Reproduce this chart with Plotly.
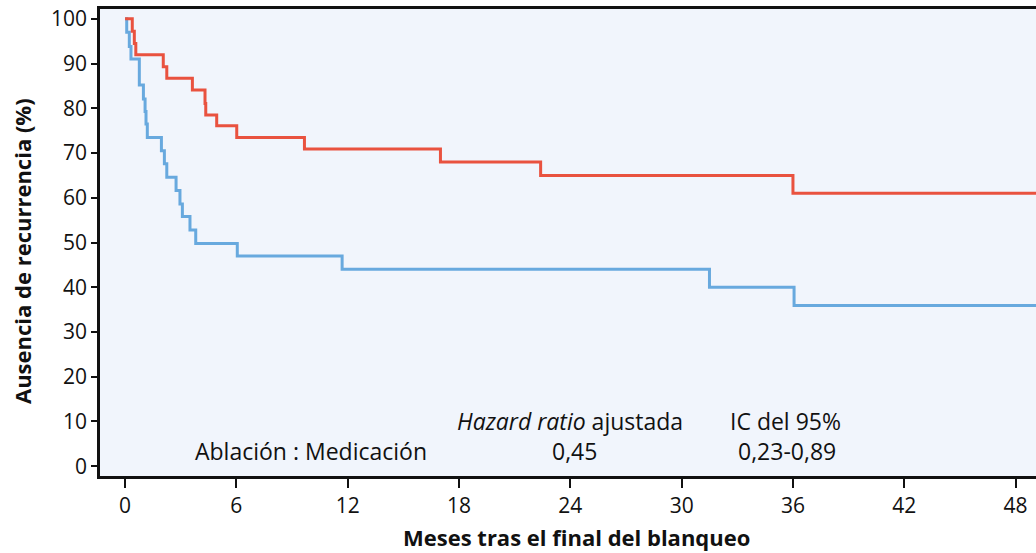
import plotly.graph_objects as go

# Kaplan-Meier step data (months, % free of recurrence)
ablacion_t = [0, 0.39, 0.50, 0.58, 2.06, 2.25, 3.63, 4.31, 4.35, 4.94, 6.02, 9.67, 17.0, 22.4, 36.0, 50.0]
ablacion_s = [100, 97.2, 94.5, 92.0, 89.3, 86.7, 84.1, 81.1, 78.5, 76.1, 73.5, 70.9, 68.0, 65.0, 61.0, 61.0]

medicacion_t = [0, 0.09, 0.23, 0.32, 0.77, 0.99, 1.08, 1.13, 1.20, 1.96, 2.12, 2.25, 2.75, 2.96, 3.09, 3.50, 3.81, 6.05, 11.7, 31.5, 36.06, 50.0]
medicacion_s = [100, 97.0, 93.8, 91.0, 85.2, 82.1, 79.3, 76.5, 73.5, 70.5, 67.6, 64.6, 61.6, 58.6, 55.8, 52.8, 49.8, 47.0, 44.0, 40.0, 35.9, 35.9]

x_ticks = [0, 6, 12, 18, 24, 30, 36, 42, 48]
y_ticks = [0, 10, 20, 30, 40, 50, 60, 70, 80, 90, 100]

FONT = "Open Sans"
RED = "#E9523F"
BLUE = "#68A9DE"

fig = go.Figure()
fig.add_trace(go.Scatter(x=medicacion_t, y=medicacion_s, mode="lines", line_shape="hv",
                         line=dict(color=BLUE, width=3), name="Medicación", showlegend=False))
fig.add_trace(go.Scatter(x=ablacion_t, y=ablacion_s, mode="lines", line_shape="hv",
                         line=dict(color=RED, width=3), name="Ablación", showlegend=False))

ann_font = dict(family=FONT, size=23, color="#111111")
fig.add_annotation(x=24.0, y=10.1, xref="x", yref="y", text="<i>Hazard ratio</i> ajustada",
                   showarrow=False, font=ann_font)
fig.add_annotation(x=35.6, y=10.1, xref="x", yref="y", text="IC del 95%",
                   showarrow=False, font=ann_font)
fig.add_annotation(x=16.4, y=3.4, xref="x", yref="y", text="Ablación : Medicación",
                   showarrow=False, font=ann_font, xanchor="right")
fig.add_annotation(x=24.2, y=3.4, xref="x", yref="y", text="0,45",
                   showarrow=False, font=ann_font)
fig.add_annotation(x=35.7, y=3.4, xref="x", yref="y", text="0,23-0,89",
                   showarrow=False, font=ann_font)

# Axis titles
title_font = dict(family=FONT, size=22, color="#111111")
fig.add_annotation(x=0.5096, y=-0.1306, xref="paper", yref="paper",
                   xanchor="center", yanchor="middle",
                   text="<b>Meses tras el final del blanqueo</b>", showarrow=False, font=title_font)
fig.add_annotation(x=-0.0833, y=0.4818, xref="paper", yref="paper",
                   xanchor="center", yanchor="middle",
                   text="<b>Ausencia de recurrencia (%)</b>", showarrow=False, font=title_font,
                   textangle=-90)

fig.update_layout(
    width=1036, height=553,
    margin=dict(l=100, r=0, t=9, b=77),
    plot_bgcolor="#F1F5FC",
    paper_bgcolor="white",
    font=dict(family=FONT, size=20, color="#111111"),
)
fig.update_xaxes(
    range=[-1.35, 49.1], tickvals=x_ticks, ticktext=[str(v) for v in x_ticks],
    showgrid=False, zeroline=False, automargin=False,
    showline=True, linecolor="#111111", linewidth=2.5, mirror=True,
    ticks="outside", ticklen=9, tickwidth=2, tickcolor="#111111",
    tickfont=dict(family=FONT, size=21),
)
fig.update_yaxes(
    range=[-2.2, 102.2], tickvals=y_ticks, ticktext=[str(v) for v in y_ticks],
    showgrid=False, zeroline=False, automargin=False,
    showline=True, linecolor="#111111", linewidth=2.5, mirror=False,
    ticks="outside", ticklen=6, tickwidth=2, tickcolor="#111111",
    tickfont=dict(family=FONT, size=21),
)

fig.write_html("out.html", config={"displayModeBar": False},
               post_script="document.body.style.margin='0';")
